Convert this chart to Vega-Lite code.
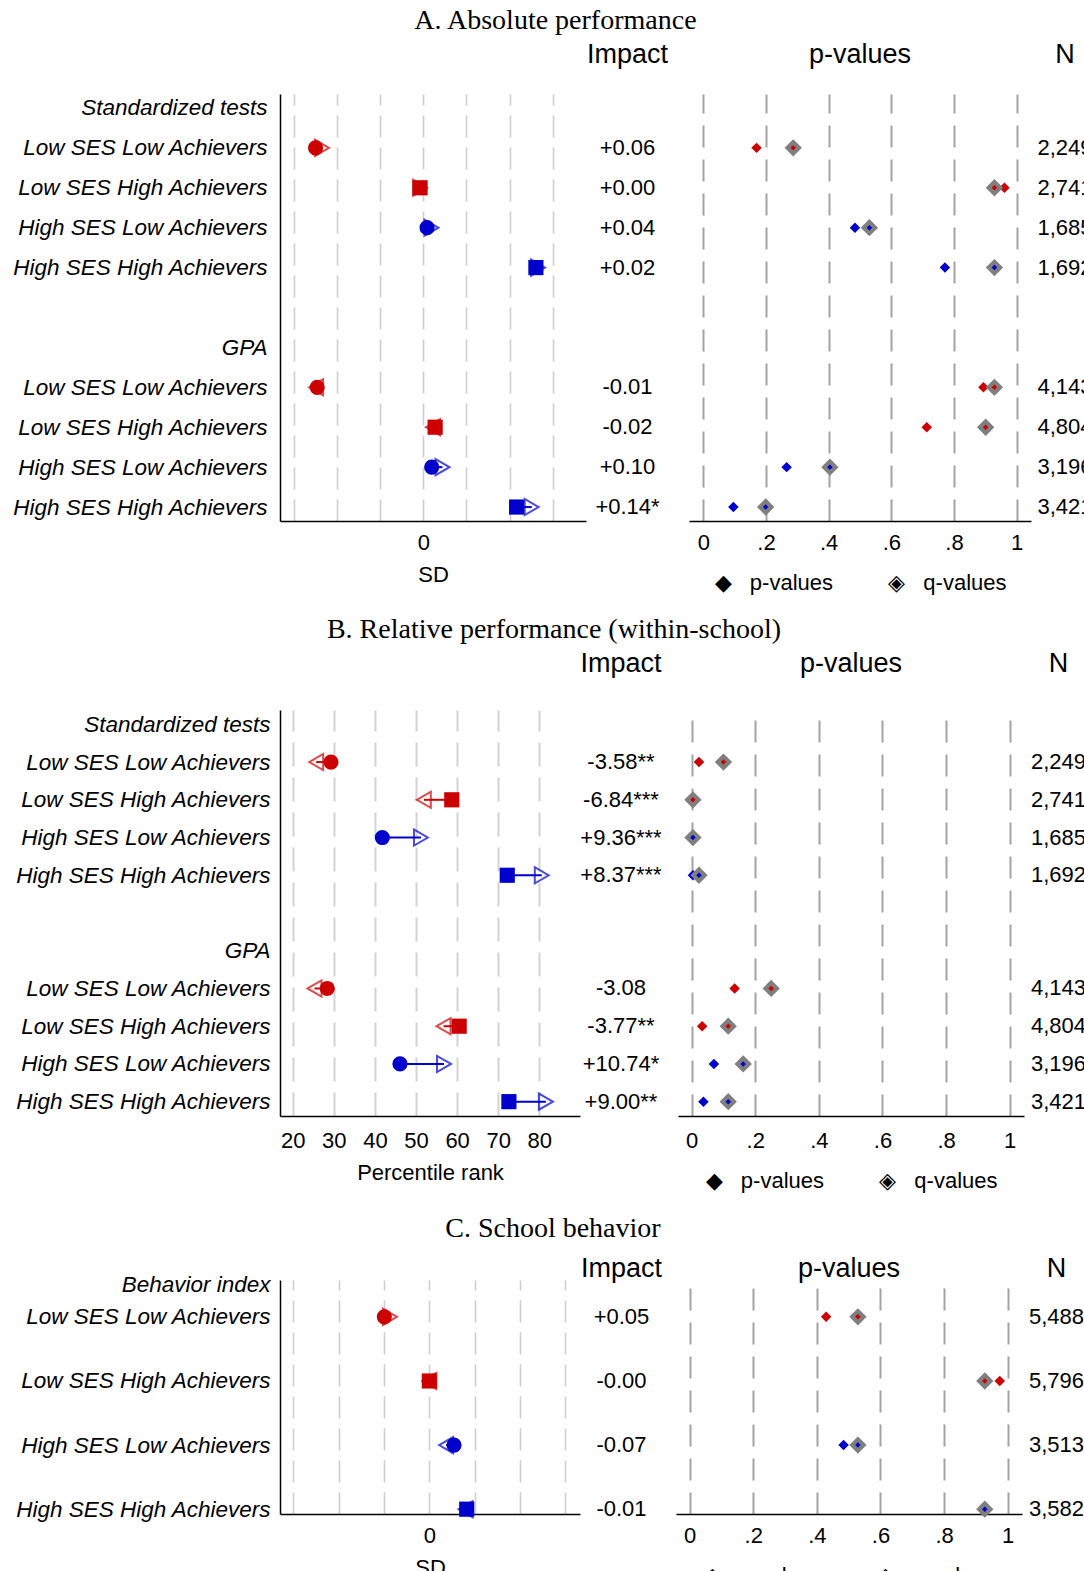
{
  "$schema": "https://vega.github.io/schema/vega-lite/v6.json",
  "background": "white",
  "padding": {"left": 11, "top": 7, "right": 0, "bottom": 0},
  "config": {
    "view": {"stroke": null},
    "font": "Liberation Sans",
    "title": {"font": "Liberation Sans", "fontSize": 27, "fontWeight": "normal", "color": "black"},
    "axis": {"labelFont": "Liberation Sans", "labelFontSize": 22, "titleFont": "Liberation Sans", "titleFontSize": 22, "titleFontWeight": "normal", "labelColor": "black", "titleColor": "black", "domainColor": "black", "tickColor": "black", "labelFlush": false}
  },
  "datasets": {
    "A": [
      {"row": "r1|Low SES Low Achievers", "g": "LL", "base": -1.0, "end": -0.94, "dir": "right", "impact": "+0.06", "p": 0.17, "q": 0.287, "n": "2,249"},
      {"row": "r2|Low SES High Achievers", "g": "LH", "base": -0.03, "end": -0.03, "dir": "right", "impact": "+0.00", "p": 0.961, "q": 0.929, "n": "2,741"},
      {"row": "r3|High SES Low Achievers", "g": "HL", "base": 0.035, "end": 0.075, "dir": "right", "impact": "+0.04", "p": 0.484, "q": 0.53, "n": "1,685"},
      {"row": "r4|High SES High Achievers", "g": "HH", "base": 1.045, "end": 1.065, "dir": "right", "impact": "+0.02", "p": 0.771, "q": 0.929, "n": "1,692"},
      {"row": "r5|Low SES Low Achievers", "g": "LL", "base": -0.985, "end": -0.995, "dir": "left", "impact": "-0.01", "p": 0.894, "q": 0.929, "n": "4,143"},
      {"row": "r6|Low SES High Achievers", "g": "LH", "base": 0.11, "end": 0.09, "dir": "left", "impact": "-0.02", "p": 0.713, "q": 0.901, "n": "4,804"},
      {"row": "r7|High SES Low Achievers", "g": "HL", "base": 0.078, "end": 0.178, "dir": "right", "impact": "+0.10", "p": 0.266, "q": 0.404, "n": "3,196"},
      {"row": "r8|High SES High Achievers", "g": "HH", "base": 0.866, "end": 1.006, "dir": "right", "impact": "+0.14*", "p": 0.096, "q": 0.199, "n": "3,421"}
    ],
    "B": [
      {"row": "r1|Low SES Low Achievers", "g": "LL", "base": 29.3, "end": 25.7, "dir": "left", "impact": "-3.58**", "p": 0.023, "q": 0.1, "n": "2,249"},
      {"row": "r2|Low SES High Achievers", "g": "LH", "base": 58.7, "end": 51.9, "dir": "left", "impact": "-6.84***", "p": 0.001, "q": 0.004, "n": "2,741"},
      {"row": "r3|High SES Low Achievers", "g": "HL", "base": 41.8, "end": 51.2, "dir": "right", "impact": "+9.36***", "p": 0.0, "q": 0.004, "n": "1,685"},
      {"row": "r4|High SES High Achievers", "g": "HH", "base": 72.2, "end": 80.6, "dir": "right", "impact": "+8.37***", "p": 0.004, "q": 0.023, "n": "1,692"},
      {"row": "r5|Low SES Low Achievers", "g": "LL", "base": 28.4, "end": 25.3, "dir": "left", "impact": "-3.08", "p": 0.135, "q": 0.25, "n": "4,143"},
      {"row": "r6|Low SES High Achievers", "g": "LH", "base": 60.5, "end": 56.7, "dir": "left", "impact": "-3.77**", "p": 0.033, "q": 0.115, "n": "4,804"},
      {"row": "r7|High SES Low Achievers", "g": "HL", "base": 46.1, "end": 56.8, "dir": "right", "impact": "+10.74*", "p": 0.07, "q": 0.162, "n": "3,196"},
      {"row": "r8|High SES High Achievers", "g": "HH", "base": 72.6, "end": 81.6, "dir": "right", "impact": "+9.00**", "p": 0.037, "q": 0.115, "n": "3,421"}
    ],
    "C": [
      {"row": "r1|Low SES Low Achievers", "g": "LL", "base": -0.397, "end": -0.347, "dir": "right", "impact": "+0.05", "p": 0.429, "q": 0.529, "n": "5,488"},
      {"row": "r2|Low SES High Achievers", "g": "LH", "base": 0.0, "end": 0.0, "dir": "left", "impact": "-0.00", "p": 0.975, "q": 0.928, "n": "5,796"},
      {"row": "r3|High SES Low Achievers", "g": "HL", "base": 0.218, "end": 0.148, "dir": "left", "impact": "-0.07", "p": 0.484, "q": 0.529, "n": "3,513"},
      {"row": "r4|High SES High Achievers", "g": "HH", "base": 0.33, "end": 0.32, "dir": "left", "impact": "-0.01", "p": 0.928, "q": 0.928, "n": "3,582"}
    ]
  },
  "spacing": 23,
  "vconcat": [
    {
      "title": {"text": "A. Absolute performance", "font": "Liberation Serif", "fontSize": 28, "anchor": "middle", "offset": 6},
      "spacing": 0,
      "hconcat": [
        {
          "width": 306, "height": 427,
          "title": {"text": " ", "offset": 25},
          "data": {"name": "A"},
          "layer": [
            {"mark": {"type": "rule", "strokeWidth": 2},
             "encoding": {
               "x": {"field": "base", "type": "quantitative"}, "x2": {"field": "end"},
               "y": {"field": "row", "type": "ordinal"},
               "color": {"field": "g", "type": "nominal", "legend": null}}},
            {"mark": {"type": "point", "filled": false, "strokeWidth": 2, "size": 260},
             "encoding": {
               "x": {"field": "end", "type": "quantitative"},
               "y": {"field": "row", "type": "ordinal"},
               "shape": {"field": "dir", "type": "nominal", "scale": {"domain": ["LL", "LH", "HL", "HH", "right", "left"], "range": ["circle", "square", "circle", "square", "triangle-right", "triangle-left"]}, "legend": null},
               "color": {"field": "g", "type": "nominal", "legend": null}}},
            {"mark": {"type": "point", "filled": true, "size": 230, "opacity": 1},
             "encoding": {
               "x": {"field": "base", "type": "quantitative", "title": "SD",
                     "scale": {"domain": [-1.33, 1.51], "nice": false, "zero": false},
                     "axis": {"values": [-1.2, -1.1, -1, -0.9, -0.8, -0.7, -0.6, -0.5, -0.4, -0.3, -0.2, -0.1, 0, 0.1, 0.2, 0.3, 0.4, 0.5, 0.6, 0.7, 0.8, 0.9, 1, 1.1, 1.2], "labelExpr": "(datum.value == -1 || datum.value == -0.5 || datum.value == 0 || datum.value == 0.5 || datum.value == 1) ? replace('' + datum.value, '0.', '.') : ''", "labelOverlap": false, "grid": true, "gridDash": [22, 10], "gridColor": "#cfcfcf", "gridWidth": 1.6, "ticks": false, "domainWidth": 1.5, "labelPadding": 11, "titlePadding": 11}},
               "y": {"field": "row", "type": "ordinal",
                     "scale": {"type": "point", "padding": 0.35, "domain": ["h1|Standardized tests", "r1|Low SES Low Achievers", "r2|Low SES High Achievers", "r3|High SES Low Achievers", "r4|High SES High Achievers", "sep", "h2|GPA", "r5|Low SES Low Achievers", "r6|Low SES High Achievers", "r7|High SES Low Achievers", "r8|High SES High Achievers"]},
                     "axis": {"title": null, "ticks": false, "grid": false, "domainWidth": 1.5, "labelPadding": 13, "labelFontSize": 22.5, "labelLimit": 400, "labelOverlap": false, "labelFontStyle": "italic",
                              "labelExpr": "datum.value == 'sep' ? '' : split(datum.value, '|')[1]"}},
               "shape": {"field": "g", "type": "nominal", "scale": {"domain": ["LL", "LH", "HL", "HH", "right", "left"], "range": ["circle", "square", "circle", "square", "triangle-right", "triangle-left"]}, "legend": null},
               "color": {"field": "g", "type": "nominal", "scale": {"domain": ["LL", "LH", "HL", "HH"], "range": ["#cc0000", "#cc0000", "#0000cc", "#0000cc"]}, "legend": null}}}
          ]
        },
        {
          "width": 75, "height": 427,
          "title": {"text": "Impact", "dx": -24, "offset": 25},
          "data": {"name": "A"},
          "mark": {"type": "text", "fontSize": 22, "dx": -24, "color": "black"},
          "encoding": {
            "y": {"field": "row", "type": "ordinal", "axis": null,
                  "scale": {"type": "point", "padding": 0.35, "domain": ["h1|Standardized tests", "r1|Low SES Low Achievers", "r2|Low SES High Achievers", "r3|High SES Low Achievers", "r4|High SES High Achievers", "sep", "h2|GPA", "r5|Low SES Low Achievers", "r6|Low SES High Achievers", "r7|High SES Low Achievers", "r8|High SES High Achievers"]}},
            "text": {"field": "impact", "type": "nominal"}}
        },
        {
          "width": 342, "height": 427,
          "title": {"text": "p-values", "offset": 25},
          "data": {"name": "A"},
          "layer": [
            {"mark": {"type": "point", "filled": true, "shape": "diamond", "size": 110, "opacity": 1},
             "encoding": {
               "x": {"field": "p", "type": "quantitative", "title": "◆\u00a0\u00a0\u00a0p-values\u00a0\u00a0\u00a0\u00a0\u00a0\u00a0\u00a0\u00a0\u00a0◈\u00a0\u00a0\u00a0q-values",
                     "scale": {"domain": [-0.0456, 1.0457], "nice": false, "zero": false},
                     "axis": {"values": [0, 0.1, 0.2, 0.3, 0.4, 0.5, 0.6, 0.7, 0.8, 0.9, 1], "labelExpr": "replace('' + datum.value, '0.', '.')", "labelOverlap": false, "grid": true, "gridDash": [22, 12], "gridColor": "#a3a3a3", "gridWidth": 2, "ticks": false, "domainWidth": 1.5, "labelPadding": 11, "titlePadding": 19}},
               "y": {"field": "row", "type": "ordinal", "axis": null,
                     "scale": {"type": "point", "padding": 0.35, "domain": ["h1|Standardized tests", "r1|Low SES Low Achievers", "r2|Low SES High Achievers", "r3|High SES Low Achievers", "r4|High SES High Achievers", "sep", "h2|GPA", "r5|Low SES Low Achievers", "r6|Low SES High Achievers", "r7|High SES Low Achievers", "r8|High SES High Achievers"]}},
               "color": {"field": "g", "type": "nominal", "scale": {"domain": ["LL", "LH", "HL", "HH"], "range": ["#ff4040", "#cc0000", "#4040ff", "#0000cc"]}, "legend": null}}},
            {"mark": {"type": "point", "filled": true, "shape": "diamond", "size": 300, "color": "#7f7f7f", "opacity": 1},
             "encoding": {"x": {"field": "q", "type": "quantitative"}, "y": {"field": "row", "type": "ordinal"}}},
            {"mark": {"type": "point", "filled": true, "shape": "diamond", "size": 30, "opacity": 1},
             "encoding": {"x": {"field": "q", "type": "quantitative"}, "y": {"field": "row", "type": "ordinal"},
                          "color": {"field": "g", "type": "nominal", "legend": null}}}
          ]
        },
        {
          "width": 68, "height": 427,
          "title": {"text": "N", "offset": 25},
          "data": {"name": "A"},
          "mark": {"type": "text", "fontSize": 22, "color": "black"},
          "encoding": {
            "y": {"field": "row", "type": "ordinal", "axis": null,
                  "scale": {"type": "point", "padding": 0.35, "domain": ["h1|Standardized tests", "r1|Low SES Low Achievers", "r2|Low SES High Achievers", "r3|High SES Low Achievers", "r4|High SES High Achievers", "sep", "h2|GPA", "r5|Low SES Low Achievers", "r6|Low SES High Achievers", "r7|High SES Low Achievers", "r8|High SES High Achievers"]}},
            "text": {"field": "n", "type": "nominal"}}
        }
      ]
    },
    {
      "title": {"text": "B. Relative performance (within-school)", "font": "Liberation Serif", "fontSize": 28, "anchor": "middle", "offset": 6},
      "spacing": 0,
      "hconcat": [
        {
          "width": 300, "height": 406,
          "title": {"text": " ", "offset": 32},
          "data": {"name": "B"},
          "layer": [
            {"mark": {"type": "rule", "strokeWidth": 2},
             "encoding": {
               "x": {"field": "base", "type": "quantitative"}, "x2": {"field": "end"},
               "y": {"field": "row", "type": "ordinal"},
               "color": {"field": "g", "type": "nominal", "legend": null}}},
            {"mark": {"type": "point", "filled": false, "strokeWidth": 2, "size": 260},
             "encoding": {
               "x": {"field": "end", "type": "quantitative"},
               "y": {"field": "row", "type": "ordinal"},
               "shape": {"field": "dir", "type": "nominal", "scale": {"domain": ["LL", "LH", "HL", "HH", "right", "left"], "range": ["circle", "square", "circle", "square", "triangle-right", "triangle-left"]}, "legend": null},
               "color": {"field": "g", "type": "nominal", "legend": null}}},
            {"mark": {"type": "point", "filled": true, "size": 230, "opacity": 1},
             "encoding": {
               "x": {"field": "base", "type": "quantitative", "title": "Percentile rank",
                     "scale": {"domain": [16.9, 89.9], "nice": false, "zero": false},
                     "axis": {"values": [20, 30, 40, 50, 60, 70, 80], "labelOverlap": false, "grid": true, "gridDash": [24, 11], "gridColor": "#d3d3d3", "gridWidth": 2, "ticks": false, "domainWidth": 1.5, "labelPadding": 14, "titlePadding": 11}},
               "y": {"field": "row", "type": "ordinal",
                     "scale": {"type": "point", "padding": 0.38, "domain": ["h1|Standardized tests", "r1|Low SES Low Achievers", "r2|Low SES High Achievers", "r3|High SES Low Achievers", "r4|High SES High Achievers", "sep", "h2|GPA", "r5|Low SES Low Achievers", "r6|Low SES High Achievers", "r7|High SES Low Achievers", "r8|High SES High Achievers"]},
                     "axis": {"title": null, "ticks": false, "grid": false, "domainWidth": 1.5, "labelPadding": 10, "labelFontSize": 22.5, "labelLimit": 400, "labelOverlap": false, "labelFontStyle": "italic",
                              "labelExpr": "datum.value == 'sep' ? '' : split(datum.value, '|')[1]"}},
               "shape": {"field": "g", "type": "nominal", "scale": {"domain": ["LL", "LH", "HL", "HH", "right", "left"], "range": ["circle", "square", "circle", "square", "triangle-right", "triangle-left"]}, "legend": null},
               "color": {"field": "g", "type": "nominal", "scale": {"domain": ["LL", "LH", "HL", "HH"], "range": ["#cc0000", "#cc0000", "#0000cc", "#0000cc"]}, "legend": null}}}
          ]
        },
        {
          "width": 82, "height": 406,
          "title": {"text": "Impact", "dx": -16, "offset": 32},
          "data": {"name": "B"},
          "mark": {"type": "text", "fontSize": 22, "dx": -16, "color": "black"},
          "encoding": {
            "y": {"field": "row", "type": "ordinal", "axis": null,
                  "scale": {"type": "point", "padding": 0.38, "domain": ["h1|Standardized tests", "r1|Low SES Low Achievers", "r2|Low SES High Achievers", "r3|High SES Low Achievers", "r4|High SES High Achievers", "sep", "h2|GPA", "r5|Low SES Low Achievers", "r6|Low SES High Achievers", "r7|High SES Low Achievers", "r8|High SES High Achievers"]}},
            "text": {"field": "impact", "type": "nominal"}}
        },
        {
          "width": 346, "height": 406,
          "title": {"text": "p-values", "offset": 32},
          "data": {"name": "B"},
          "layer": [
            {"mark": {"type": "point", "filled": true, "shape": "diamond", "size": 110, "opacity": 1},
             "encoding": {
               "x": {"field": "p", "type": "quantitative", "title": "◆\u00a0\u00a0\u00a0p-values\u00a0\u00a0\u00a0\u00a0\u00a0\u00a0\u00a0\u00a0\u00a0◈\u00a0\u00a0\u00a0q-values",
                     "scale": {"domain": [-0.043, 1.045], "nice": false, "zero": false},
                     "axis": {"values": [0, 0.1, 0.2, 0.3, 0.4, 0.5, 0.6, 0.7, 0.8, 0.9, 1], "labelExpr": "replace('' + datum.value, '0.', '.')", "labelOverlap": false, "grid": true, "gridDash": [22, 12], "gridColor": "#a3a3a3", "gridWidth": 2, "ticks": false, "domainWidth": 1.5, "labelPadding": 14, "titlePadding": 19}},
               "y": {"field": "row", "type": "ordinal", "axis": null,
                     "scale": {"type": "point", "padding": 0.38, "domain": ["h1|Standardized tests", "r1|Low SES Low Achievers", "r2|Low SES High Achievers", "r3|High SES Low Achievers", "r4|High SES High Achievers", "sep", "h2|GPA", "r5|Low SES Low Achievers", "r6|Low SES High Achievers", "r7|High SES Low Achievers", "r8|High SES High Achievers"]}},
               "color": {"field": "g", "type": "nominal", "scale": {"domain": ["LL", "LH", "HL", "HH"], "range": ["#ff4040", "#cc0000", "#4040ff", "#0000cc"]}, "legend": null}}},
            {"mark": {"type": "point", "filled": true, "shape": "diamond", "size": 300, "color": "#7f7f7f", "opacity": 1},
             "encoding": {"x": {"field": "q", "type": "quantitative"}, "y": {"field": "row", "type": "ordinal"}}},
            {"mark": {"type": "point", "filled": true, "shape": "diamond", "size": 30, "opacity": 1},
             "encoding": {"x": {"field": "q", "type": "quantitative"}, "y": {"field": "row", "type": "ordinal"},
                          "color": {"field": "g", "type": "nominal", "legend": null}}}
          ]
        },
        {
          "width": 69, "height": 406,
          "title": {"text": "N", "offset": 32},
          "data": {"name": "B"},
          "mark": {"type": "text", "fontSize": 22, "color": "black"},
          "encoding": {
            "y": {"field": "row", "type": "ordinal", "axis": null,
                  "scale": {"type": "point", "padding": 0.38, "domain": ["h1|Standardized tests", "r1|Low SES Low Achievers", "r2|Low SES High Achievers", "r3|High SES Low Achievers", "r4|High SES High Achievers", "sep", "h2|GPA", "r5|Low SES Low Achievers", "r6|Low SES High Achievers", "r7|High SES Low Achievers", "r8|High SES High Achievers"]}},
            "text": {"field": "n", "type": "nominal"}}
        }
      ]
    },
    {
      "title": {"text": "C. School behavior", "font": "Liberation Serif", "fontSize": 28, "anchor": "middle", "offset": 6},
      "spacing": 0,
      "hconcat": [
        {
          "width": 300, "height": 234,
          "title": {"text": " ", "offset": -3},
          "data": {"name": "C"},
          "layer": [
            {"mark": {"type": "rule", "strokeWidth": 2},
             "encoding": {
               "x": {"field": "base", "type": "quantitative"}, "x2": {"field": "end"},
               "y": {"field": "row", "type": "ordinal"},
               "color": {"field": "g", "type": "nominal", "legend": null}}},
            {"mark": {"type": "point", "filled": false, "strokeWidth": 2, "size": 260},
             "encoding": {
               "x": {"field": "end", "type": "quantitative"},
               "y": {"field": "row", "type": "ordinal"},
               "shape": {"field": "dir", "type": "nominal", "scale": {"domain": ["LL", "LH", "HL", "HH", "right", "left"], "range": ["circle", "square", "circle", "square", "triangle-right", "triangle-left"]}, "legend": null},
               "color": {"field": "g", "type": "nominal", "legend": null}}},
            {"mark": {"type": "point", "filled": true, "size": 230, "opacity": 1},
             "encoding": {
               "x": {"field": "base", "type": "quantitative", "title": "SD",
                     "scale": {"domain": [-1.318, 1.33], "nice": false, "zero": false},
                     "axis": {"values": [-1.2, -1.1, -1, -0.9, -0.8, -0.7, -0.6, -0.5, -0.4, -0.3, -0.2, -0.1, 0, 0.1, 0.2, 0.3, 0.4, 0.5, 0.6, 0.7, 0.8, 0.9, 1, 1.1, 1.2], "labelExpr": "(datum.value == -1 || datum.value == -0.5 || datum.value == 0 || datum.value == 0.5 || datum.value == 1) ? replace('' + datum.value, '0.', '.') : ''", "labelOverlap": false, "grid": true, "gridDash": [22, 10], "gridColor": "#cfcfcf", "gridWidth": 1.6, "ticks": false, "domainWidth": 1.5, "labelPadding": 11, "titlePadding": 11}},
               "y": {"field": "row", "type": "ordinal",
                     "scale": {"type": "point", "padding": 0.15, "domain": ["h1|Behavior index", "r1|Low SES Low Achievers", "x1", "r2|Low SES High Achievers", "sep", "r3|High SES Low Achievers", "x2", "r4|High SES High Achievers"]},
                     "axis": {"title": null, "ticks": false, "grid": false, "domainWidth": 1.5, "labelPadding": 10, "labelFontSize": 22.5, "labelLimit": 400, "labelOverlap": false, "labelFontStyle": "italic",
                              "labelExpr": "(datum.value == 'sep' || datum.value == 'x1' || datum.value == 'x2') ? '' : split(datum.value, '|')[1]"}},
               "shape": {"field": "g", "type": "nominal", "scale": {"domain": ["LL", "LH", "HL", "HH", "right", "left"], "range": ["circle", "square", "circle", "square", "triangle-right", "triangle-left"]}, "legend": null},
               "color": {"field": "g", "type": "nominal", "scale": {"domain": ["LL", "LH", "HL", "HH"], "range": ["#cc0000", "#cc0000", "#0000cc", "#0000cc"]}, "legend": null}}}
          ]
        },
        {
          "width": 83, "height": 234,
          "title": {"text": "Impact", "dx": -13, "offset": -3},
          "data": {"name": "C"},
          "mark": {"type": "text", "fontSize": 22, "dx": -13, "color": "black"},
          "encoding": {
            "y": {"field": "row", "type": "ordinal", "axis": null,
                  "scale": {"type": "point", "padding": 0.15, "domain": ["h1|Behavior index", "r1|Low SES Low Achievers", "x1", "r2|Low SES High Achievers", "sep", "r3|High SES Low Achievers", "x2", "r4|High SES High Achievers"]}},
            "text": {"field": "impact", "type": "nominal"}}
        },
        {
          "width": 346, "height": 234,
          "title": {"text": "p-values", "offset": -3},
          "data": {"name": "C"},
          "layer": [
            {"mark": {"type": "point", "filled": true, "shape": "diamond", "size": 110, "opacity": 1},
             "encoding": {
               "x": {"field": "p", "type": "quantitative", "title": "◆\u00a0\u00a0\u00a0p-values\u00a0\u00a0\u00a0\u00a0\u00a0\u00a0\u00a0\u00a0\u00a0◈\u00a0\u00a0\u00a0q-values",
                     "scale": {"domain": [-0.043, 1.045], "nice": false, "zero": false},
                     "axis": {"values": [0, 0.1, 0.2, 0.3, 0.4, 0.5, 0.6, 0.7, 0.8, 0.9, 1], "labelExpr": "replace('' + datum.value, '0.', '.')", "labelOverlap": false, "grid": true, "gridDash": [22, 12], "gridColor": "#a3a3a3", "gridWidth": 2, "ticks": false, "domainWidth": 1.5, "labelPadding": 11, "titlePadding": 19}},
               "y": {"field": "row", "type": "ordinal", "axis": null,
                     "scale": {"type": "point", "padding": 0.15, "domain": ["h1|Behavior index", "r1|Low SES Low Achievers", "x1", "r2|Low SES High Achievers", "sep", "r3|High SES Low Achievers", "x2", "r4|High SES High Achievers"]}},
               "color": {"field": "g", "type": "nominal", "scale": {"domain": ["LL", "LH", "HL", "HH"], "range": ["#ff0000", "#ff0000", "#0000ff", "#0000ff"]}, "legend": null}}},
            {"mark": {"type": "point", "filled": true, "shape": "diamond", "size": 300, "color": "#7f7f7f", "opacity": 1},
             "encoding": {"x": {"field": "q", "type": "quantitative"}, "y": {"field": "row", "type": "ordinal"}}},
            {"mark": {"type": "point", "filled": true, "shape": "diamond", "size": 30, "opacity": 1},
             "encoding": {"x": {"field": "q", "type": "quantitative"}, "y": {"field": "row", "type": "ordinal"},
                          "color": {"field": "g", "type": "nominal", "legend": null}}}
          ]
        },
        {
          "width": 69, "height": 234,
          "title": {"text": "N", "offset": -3},
          "data": {"name": "C"},
          "mark": {"type": "text", "fontSize": 22, "color": "black"},
          "encoding": {
            "y": {"field": "row", "type": "ordinal", "axis": null,
                  "scale": {"type": "point", "padding": 0.15, "domain": ["h1|Behavior index", "r1|Low SES Low Achievers", "x1", "r2|Low SES High Achievers", "sep", "r3|High SES Low Achievers", "x2", "r4|High SES High Achievers"]}},
            "text": {"field": "n", "type": "nominal"}}
        }
      ]
    }
  ]
}
